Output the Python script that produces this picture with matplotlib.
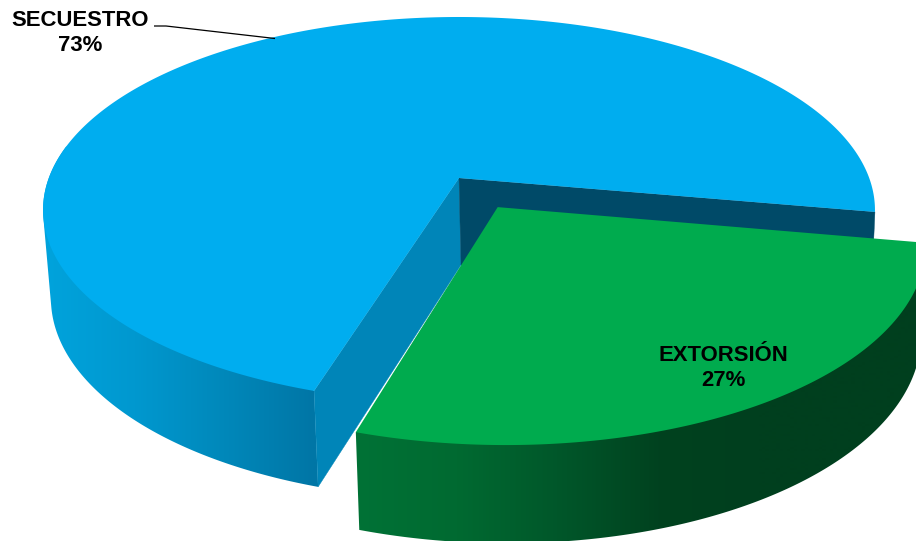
import numpy as np
import matplotlib
matplotlib.use('Agg')
import matplotlib.pyplot as plt
from matplotlib.patches import Polygon
from matplotlib.colors import LinearSegmentedColormap

labels = ['SECUESTRO', 'EXTORSIÓN']
shares = [73, 27]

# colours of each slice
top_colors = ['#00ADEF', '#00AB4E']
cut_colors = ['#0085B8', '#004A68']
wall_colors = [['#00A3DC', '#0098CF', '#0088BA', '#0076A6'],
               ['#007236', '#006A31', '#00572A', '#00421F', '#003F1E']]

# ---------- perspective of the disc, in pixels ----------
K = 0.1658
START = -10.1
EXPLODE = 0.177


def project(theta, offset, cx, cy, a, b):
    u = np.cos(theta) + offset[0]
    v = np.sin(theta) + offset[1]
    w = 1 + K * v
    return cx + a * u / w, cy - b * v / w


def top(theta, offset=(0, 0)):
    return project(theta, offset, 459, 178, 410.2, 187.7)


def bottom(theta, offset=(0, 0)):
    return project(theta, offset, 461, 265, 404.4, 195.6)


def apex(func, offset):
    # centre of the disc
    u, v = offset
    w = 1 + K * v
    if func is top:
        return 459 + 410.2 * u / w, 178 - 187.7 * v / w
    return 461 + 404.4 * u / w, 265 - 195.6 * v / w


def hull(points):
    pts = sorted(set(map(tuple, points)))

    def half(seq):
        out = []
        for p in seq:
            while len(out) > 1 and ((out[-1][0] - out[-2][0]) * (p[1] - out[-2][1])
                                    - (out[-1][1] - out[-2][1]) * (p[0] - out[-2][0])) <= 0:
                out.pop()
            out.append(p)
        return out[:-1]

    return half(pts) + half(pts[::-1])


def draw_wall(ax, t0, t1, colors, offset, x0, x1):
    # outline of the side, the part inside gets covered by the top face
    ts = np.linspace(t0, t1, 300)
    pts = np.r_[np.c_[top(ts, offset)], np.c_[bottom(ts, offset)]]
    outline = Polygon(hull(pts), fc='none', ec='none')
    ax.add_patch(outline)
    cmap = LinearSegmentedColormap.from_list('wall', colors)
    # gradient runs x0..x1 and stays flat outside of it
    xs = np.arange(917)
    grad = np.clip((xs - x0) / (x1 - x0), 0, 1).reshape(1, -1)
    im = ax.imshow(grad, cmap=cmap, vmin=0, vmax=1, extent=[0, 916, 541, 0], aspect='auto', interpolation='bilinear')
    im.set_clip_path(outline)


fig = plt.figure(figsize=(9.16, 5.41), dpi=100)
ax = fig.add_axes([0, 0, 1, 1])

sweep_green = np.radians(shares[1] * 3.6)
t_right = np.radians(START)
t_left = t_right - sweep_green
t_mid = (t_right + t_left) / 2
no_off = (0, 0)
off = (EXPLODE * np.cos(t_mid), EXPLODE * np.sin(t_mid))

# ---------- big slice ----------
draw_wall(ax, t_left, np.radians(-190), wall_colors[0], no_off, 45, 314)

p_top = apex(top, no_off)
p_bot = apex(bottom, no_off)
ax.add_patch(Polygon([p_top, p_bot, bottom(t_left), top(t_left)], fc=cut_colors[0], ec=cut_colors[0], lw=0.3))
ax.add_patch(Polygon([p_top, p_bot, bottom(t_right), top(t_right)], fc=cut_colors[1], ec=cut_colors[1], lw=0.3))

ts = np.linspace(t_left, t_right - 2 * np.pi, 400)
x, y = top(ts)
ax.add_patch(Polygon(np.r_[[p_top], np.c_[x, y]], fc=top_colors[0], ec='none'))

# ---------- exploded slice ----------
draw_wall(ax, t_left, t_right, wall_colors[1], off, 356, 760)

ts = np.linspace(t_left, t_right, 200)
x, y = top(ts, off)
ax.add_patch(Polygon(np.r_[[apex(top, off)], np.c_[x, y]], fc=top_colors[1], ec='none'))

# ---------- labels ----------
font = dict(family='Liberation Sans', fontweight='bold', fontsize=15.9, color='black',
            ha='center', va='center', linespacing=1.3)
ax.text(80, 33, '{}\n{}%'.format(labels[0], shares[0]), **font)
ax.text(723, 368, '{}\n{}%'.format(labels[1], shares[1]), **font)
ax.plot([154, 166, 275], [26, 26, 38.5], color='black', lw=0.9, solid_capstyle='butt')

ax.set_xlim(0, 916)
ax.set_ylim(541, 0)
ax.axis('off')

fig.savefig('out.png', dpi=100)
